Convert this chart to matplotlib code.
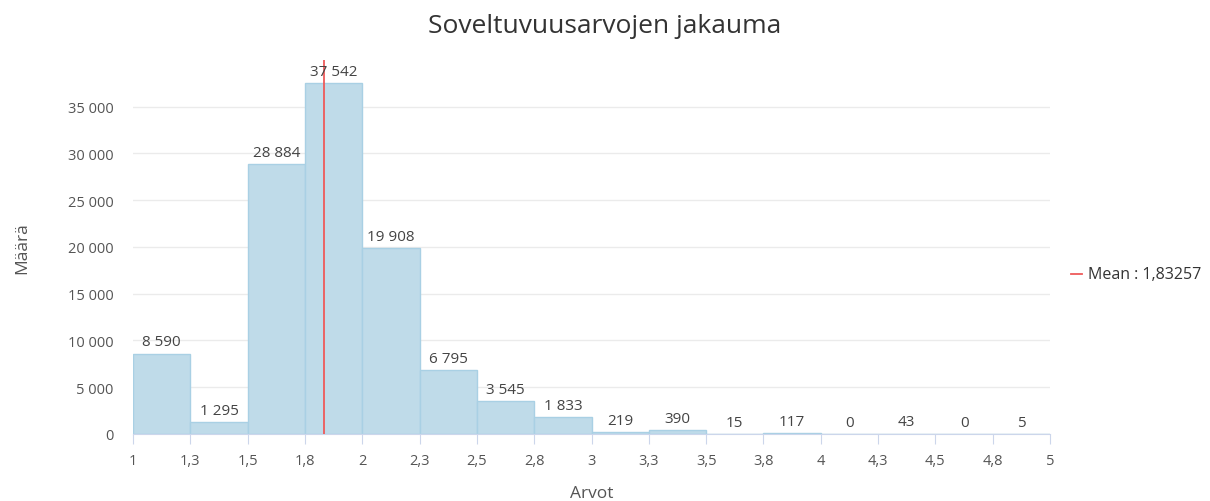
import numpy as np
import matplotlib.pyplot as plt

plt.rcParams['font.family'] = ['Open Sans', 'DejaVu Sans']

bin_edges = [1, 1.25, 1.5, 1.75, 2, 2.25, 2.5, 2.75, 3, 3.25, 3.5, 3.75, 4, 4.25, 4.5, 4.75, 5]
counts = [8590, 1295, 28884, 37542, 19908, 6795, 3545, 1833, 219, 390, 15, 117, 0, 43, 0, 5]
x_tick_labels = ['1', '1,3', '1,5', '1,8', '2', '2,3', '2,5', '2,8', '3',
                 '3,3', '3,5', '3,8', '4', '4,3', '4,5', '4,8', '5']
y_ticks = [0, 5000, 10000, 15000, 20000, 25000, 30000, 35000]
mean_value = 1.83257

text_col = '#555555'

fig = plt.figure(figsize=(12.1, 5.02), dpi=100)
ax = fig.add_axes([0.1099, 0.1335, 0.7579, 0.745])

lefts = np.array(bin_edges[:-1])
widths = np.diff(bin_edges)
ax.bar(lefts, counts, width=widths, align='edge', color='#bfdbe9',
       edgecolor='#a9d0e4', linewidth=1.0, zorder=2)

for x, w, c in zip(lefts, widths, counts):
    ax.text(x + w / 2, c + 450, f'{c:,}'.replace(',', ' '), ha='center', va='bottom',
            fontsize=11, color='#444444', zorder=4)

ax.axvline(mean_value, color='#ee5a5a', linewidth=1.3, zorder=3)

ax.set_xlim(1, 5)
ax.set_ylim(0, 40000)
ax.set_xticks(bin_edges)
ax.set_xticklabels(x_tick_labels)
ax.set_yticks(y_ticks)
ax.set_yticklabels([f'{v:,}'.replace(',', ' ') for v in y_ticks])
ax.yaxis.grid(True, color='#ebebeb', linewidth=1)
ax.set_axisbelow(True)

for s in ['top', 'right', 'left']:
    ax.spines[s].set_visible(False)
ax.spines['bottom'].set_color('#ccd6eb')
ax.tick_params(axis='x', colors='#ccd6eb', labelcolor=text_col, labelsize=10.5,
               length=7, direction='out', pad=7)
ax.tick_params(axis='y', length=0, labelcolor=text_col, labelsize=10.5, pad=14)

ax.set_xlabel('Arvot', fontsize=12.5, color=text_col, labelpad=12)
ax.set_ylabel('Määrä', fontsize=12.5, color=text_col, labelpad=27)
fig.text(0.5, 0.948, 'Soveltuvuusarvojen jakauma', ha='center', va='center',
         fontsize=19, color='#333333')

# legend
fig.lines.append(plt.Line2D([0.885, 0.894], [0.452, 0.452], color='#ee5a5a',
                            linewidth=1.3, transform=fig.transFigure))
fig.text(0.899, 0.452, 'Mean : 1,83257', ha='left', va='center',
         fontsize=11.5, color='#333333')

fig.savefig('out.png', dpi=100)
